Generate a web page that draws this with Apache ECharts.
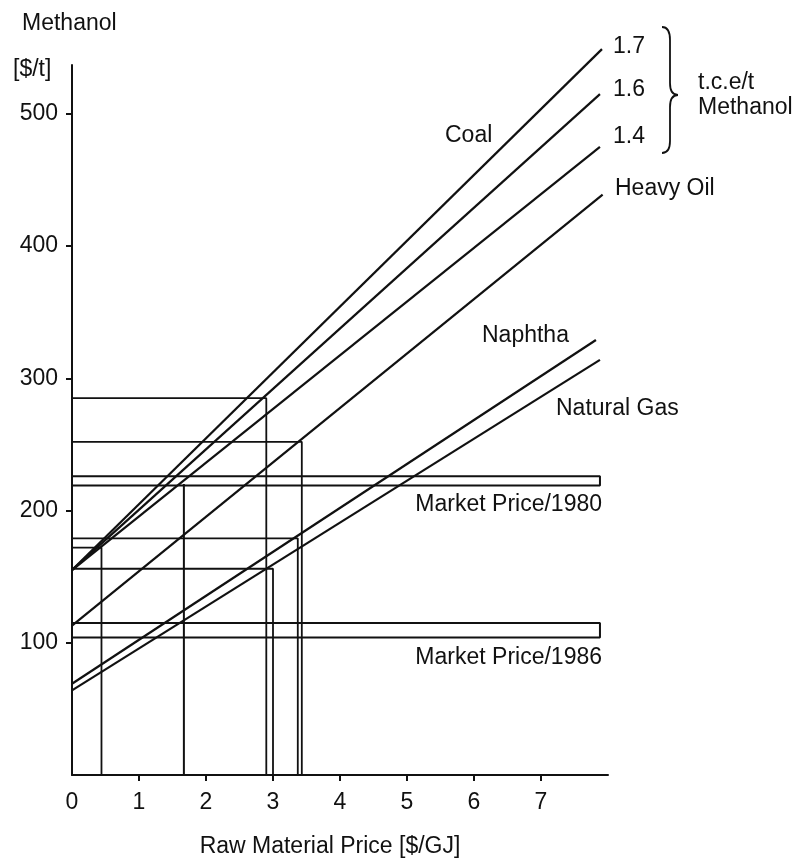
<!DOCTYPE html>
<html>
<head>
<meta charset="utf-8">
<script src="https://cdn.jsdelivr.net/npm/echarts@6/dist/echarts.min.js"></script>
<style>
html,body{margin:0;padding:0;background:#fff;}
#chart{width:797px;height:858px;}
</style>
</head>
<body>
<div id="chart"></div>
<script>
// ---- data ----
const xTickLabels = [0, 1, 2, 3, 4, 5, 6, 7];
const xTickMarks = [1, 2, 3, 4, 5, 6, 7];
const yTickLabels = [100, 200, 300, 400, 500];

const coal17 = [[0, 155], [7.91, 549]];
const coal16 = [[0, 155], [7.88, 515]];
const coal14 = [[0, 155], [7.88, 475]];
const heavyOil = [[0, 113], [7.92, 439]];
const naphtha = [[0, 69], [7.82, 329]];
const naturalGas = [[0, 64], [7.88, 314]];

const market1980 = [219, 226];
const market1986 = [104, 115];
const marketEndX = 7.88;

// reading lines: [x, y] -> horizontal from y-axis and vertical to x-axis
const readings = [[0.44, 172], [2.9, 285], [3.43, 252], [3.37, 179], [3.0, 156]];
// vertical only (coal meets 1980 market price)
const coalAt1980 = [1.67, 220];

// ---- chart ----
const FONT = 'Liberation Sans';
const INK = '#111';
const chart = echarts.init(document.getElementById('chart'), null, {renderer: 'canvas'});

function lineSeries(data, width) {
  return {
    type: 'line', data: data, symbol: 'none', silent: true, animation: false, clip: false,
    lineStyle: {color: INK, width: width}, z: 3
  };
}

const series = [];
[coal17, coal16, coal14, heavyOil, naphtha, naturalGas].forEach(d => series.push(lineSeries(d, 2.2)));
[market1980, market1986].forEach(b => {
  series.push(lineSeries([[0, b[1]], [marketEndX, b[1]], [marketEndX, b[0]], [0, b[0]]], 2));
});
readings.forEach(p => {
  series.push(lineSeries([[0, p[1]], [p[0], p[1]], [p[0], 0]], 1.8));
});
series.push(lineSeries([[coalAt1980[0], coalAt1980[1]], [coalAt1980[0], 0]], 2));

function txt(text, x, y, align) {
  return {
    type: 'text', x: x, y: y, silent: true,
    style: {text: text, fill: INK, font: '23px "' + FONT + '"', align: align || 'left', verticalAlign: 'middle'}
  };
}

// curly brace decoration (pixel drawing, not data)
function bezier(p0, p1, p2) {
  return {type: 'bezierCurve', silent: true,
    shape: {x1: p0[0], y1: p0[1], cpx1: p1[0], cpy1: p1[1], x2: p2[0], y2: p2[1]},
    style: {stroke: INK, lineWidth: 1.8, fill: null}};
}
function seg(a, b) {
  return {type: 'line', silent: true, shape: {x1: a[0], y1: a[1], x2: b[0], y2: b[1]},
    style: {stroke: INK, lineWidth: 1.8}};
}
const brace = [
  bezier([662, 27], [670, 27], [670, 40]),
  seg([670, 40], [670, 83]),
  bezier([670, 83], [670, 95], [678, 95]),
  bezier([678, 95], [670, 95], [670, 107]),
  seg([670, 107], [670, 141]),
  bezier([670, 141], [670, 153], [662, 153])
];

const option = {
  backgroundColor: '#fff',
  animation: false,
  grid: {left: 72, right: 189, top: 65, bottom: 83, containLabel: false},
  xAxis: {
    type: 'value', min: 0, max: 8, interval: 1,
    axisLine: {lineStyle: {color: INK, width: 2}},
    axisTick: {show: true, length: 6, customValues: xTickMarks, lineStyle: {color: INK, width: 2}},
    axisLabel: {customValues: xTickLabels, margin: 16, color: INK, fontFamily: FONT, fontSize: 23},
    splitLine: {show: false}
  },
  yAxis: {
    type: 'value', min: 0, max: 537, interval: 100,
    axisLine: {show: true, lineStyle: {color: INK, width: 2}},
    axisTick: {show: true, length: 6, customValues: yTickLabels, lineStyle: {color: INK, width: 2}},
    axisLabel: {customValues: yTickLabels, margin: 14, color: INK, fontFamily: FONT, fontSize: 23},
    splitLine: {show: false}
  },
  series: series,
  graphic: [
    txt('Methanol', 22, 24),
    txt('[$/t]', 13, 70),
    txt('Raw Material Price [$/GJ]', 330, 847, 'center'),
    txt('Coal', 445, 136),
    txt('1.7', 613, 47),
    txt('1.6', 613, 90),
    txt('1.4', 613, 137),
    txt('Heavy Oil', 615, 189),
    txt('t.c.e/t', 698, 83),
    txt('Methanol', 698, 108),
    txt('Naphtha', 482, 336),
    txt('Natural Gas', 556, 409),
    txt('Market Price/1980', 602, 505, 'right'),
    txt('Market Price/1986', 602, 658, 'right')
  ].concat(brace)
};
chart.setOption(option);
</script>
</body>
</html>
